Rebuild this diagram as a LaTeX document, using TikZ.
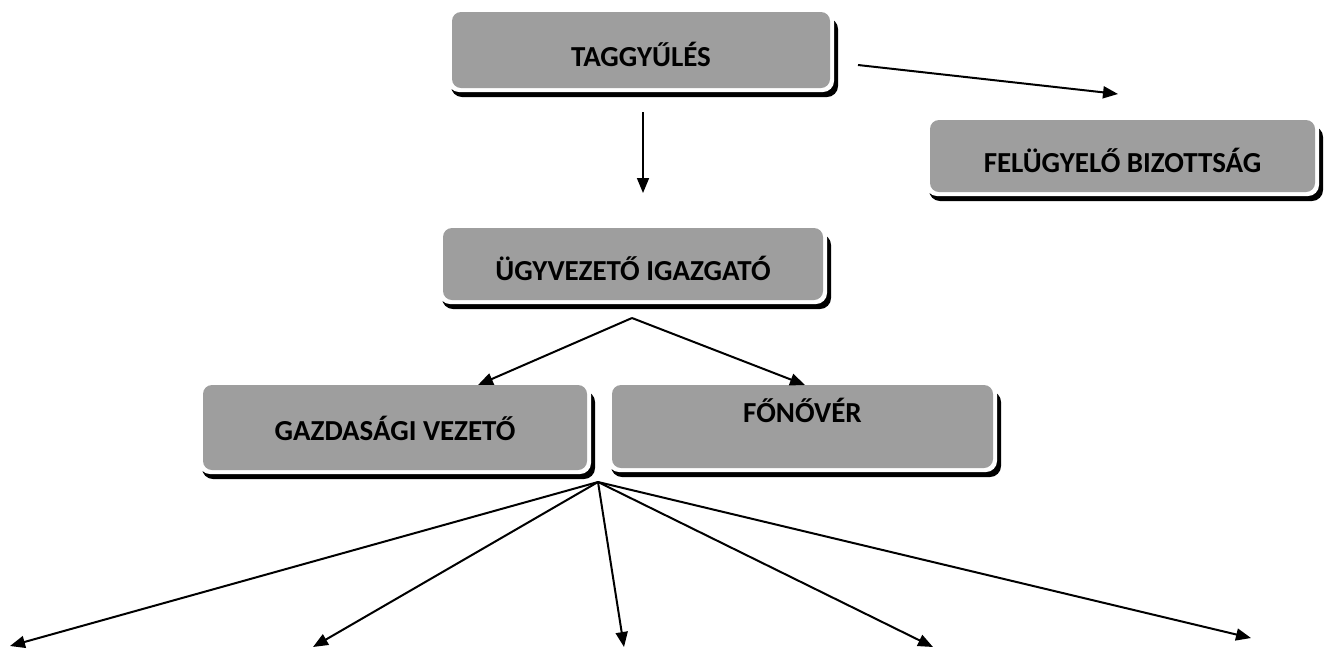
\documentclass[tikz,border=0pt]{standalone}
\usepackage{fontspec}
\setmainfont{Carlito}
\usetikzlibrary{arrows.meta}
\definecolor{boxgray}{RGB}{158,158,158}
\tikzset{
  orgbox/.style={fill=boxgray, rounded corners=9pt, inner sep=0pt},
  orgtext/.style={font=\fontsize{29}{31}\selectfont\bfseries, text=black, inner sep=0pt},
  conn/.style={line width=2pt, -{Triangle[length=15pt,width=12pt]}},
}
\newcommand\orgnode[7]{%
  \fill[black, rounded corners=11pt] ({#2-1},{#3+6}) rectangle ({#4+8},{#5+9});
  \fill[white, rounded corners=11pt] ({#2-4},{#3-4}) rectangle ({#4+4},{#5+4});
  \node[orgbox, minimum width=(#4-#2)*1pt, minimum height=(#5-#3)*1pt] (#1) at ({(#2+#4)/2},{(#3+#5)/2}) {};
  \node[orgtext] (#1-label) at ([yshift=-#7pt]#1.center) {#6};
}
\begin{document}
\begin{tikzpicture}[x=1pt,y=-1pt]
\useasboundingbox (0,0) rectangle (1329,649);
\orgnode{tag}{452}{12}{830}{88}{TAGGYŰLÉS}{4}
\orgnode{fel}{930}{120}{1315}{192}{FELÜGYELŐ BIZOTTSÁG}{4}
\orgnode{ugy}{443}{228}{823}{300}{ÜGYVEZETŐ IGAZGATÓ}{4}
\orgnode{gaz}{203}{385}{587}{470}{GAZDASÁGI VEZETŐ}{1}
\orgnode{fon}{612}{385}{993}{468}{FŐNŐVÉR}{-16}

\coordinate (tagS) at (643,112);
\coordinate (tagT) at (643,193);
\coordinate (tagR) at (858,65);
\coordinate (felT) at (1118,94);
\coordinate (ugyS) at (632,318);
\coordinate (gazT) at (478,385);
\coordinate (fonT) at (805,385);
\coordinate (bot) at (598,482);
\coordinate (b1) at (10,646);
\coordinate (b2) at (313,647);
\coordinate (b3) at (624,647);
\coordinate (b4) at (933,647);
\coordinate (b5) at (1251,638);

\draw[conn, line width=1.6pt] (tagS) -- (tagT);
\draw[conn] (tagR) -- (felT);
\draw[conn] (ugyS) -- (gazT);
\draw[conn] (ugyS) -- (fonT);
\foreach \t in {b1,b2,b3,b4,b5} \draw[conn] (bot) -- (\t);
\end{tikzpicture}
\end{document}
